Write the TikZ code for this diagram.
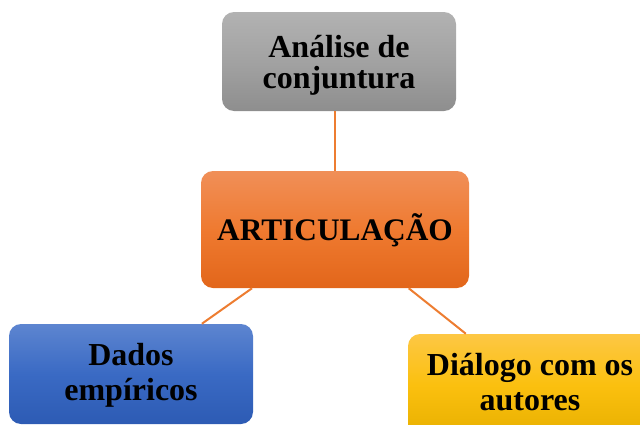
\documentclass[tikz,border=0pt]{standalone}
\usepackage{fontspec}
\setmainfont{Liberation Serif}
\definecolor{lineor}{HTML}{ED7D31}
\definecolor{gtop}{HTML}{B2B2B2}
\definecolor{gmid}{HTML}{A2A2A2}
\definecolor{gbot}{HTML}{8E8E8E}
\definecolor{otop}{HTML}{F08F58}
\definecolor{omid}{HTML}{EF7A30}
\definecolor{obot}{HTML}{E2661A}
\definecolor{btop}{HTML}{5D85D0}
\definecolor{bmid}{HTML}{3A6AC4}
\definecolor{bbot}{HTML}{2D5BB4}
\definecolor{ytop}{HTML}{FDC744}
\definecolor{ymid}{HTML}{FBC00F}
\definecolor{ybot}{HTML}{E8B000}
% two lines with controlled height above first baseline and depth below last
\newcommand{\twolines}[4]{\rule{0pt}{#1}#3\\#4\rule[-#2]{0pt}{#2}}
\tikzset{
  px/.style={x=0.75pt,y=-0.75pt},
  box/.style={rectangle, rounded corners=9pt, draw=none, align=center,
    inner sep=0pt},
  conn/.style={draw=lineor, line width=1.5pt}
}
\begin{document}
\begin{tikzpicture}[px]
\useasboundingbox (0,0) rectangle (640,425);
\begin{scope}
\clip (0,0) rectangle (640,425);
\node[box, minimum width=175.5pt, minimum height=74.25pt, top color=gtop, bottom color=gbot, middle color=gmid,
  font=\bfseries\fontsize{24pt}{23.25pt}\selectfont] (top) at (339,61.5)
  {\twolines{24pt}{7.5pt}{Análise de}{conjuntura}};
\node[box, minimum width=201pt, minimum height=87.75pt, top color=otop, bottom color=obot, middle color=omid,
  font=\bfseries\fontsize{23.5pt}{26pt}\selectfont] (mid) at (335,229.5)
  {\rule[-8.25pt]{0pt}{32.25pt}ARTICULAÇÃO};
\node[box, minimum width=183pt, minimum height=75pt, top color=btop, bottom color=bbot, middle color=bmid,
  font=\bfseries\fontsize{24pt}{26.25pt}\selectfont] (left) at (131,374)
  {\twolines{24pt}{11.25pt}{Dados}{empíricos}};
\node[box, minimum width=183pt, minimum height=76.5pt, top color=ytop, bottom color=ybot, middle color=ymid,
  font=\bfseries\fontsize{24pt}{26.25pt}\selectfont] (right) at (530,385)
  {\twolines{24pt}{12.75pt}{Diálogo com os}{autores}};
\end{scope}
\draw[conn] (top.south -| mid.north) -- (mid.north);
\draw[conn] (mid) -- (left);
\draw[conn] (mid) -- (right);
\end{tikzpicture}
\end{document}
